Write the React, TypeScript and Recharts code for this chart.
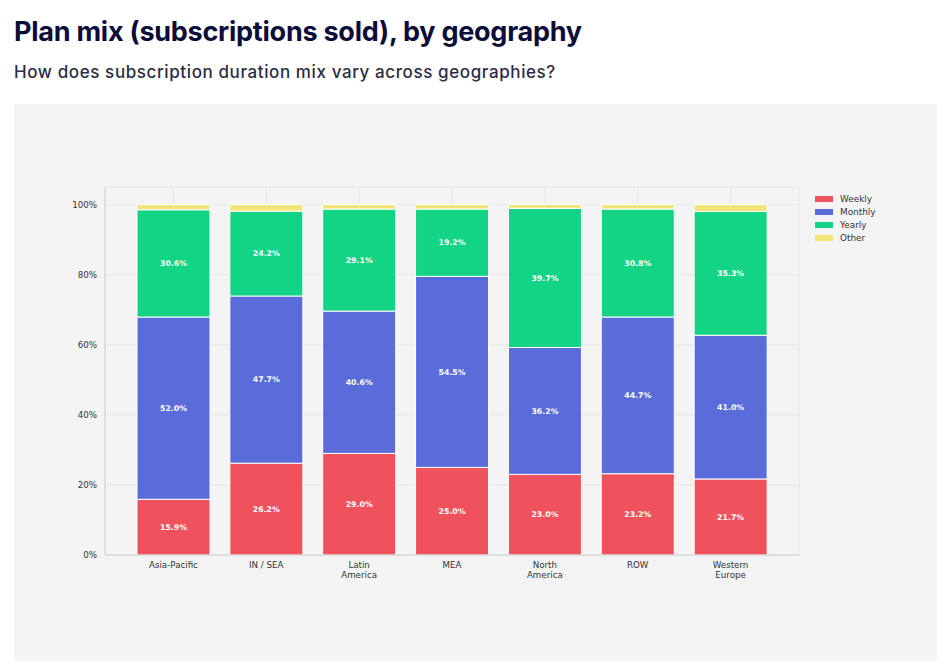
import React from "react";
import {
  BarChart,
  Bar,
  XAxis,
  YAxis,
  CartesianGrid,
  LabelList,
} from "recharts";

// plan mix share (%) per geography
const regions = [
  "Asia-Pacific",
  "IN / SEA",
  "Latin\nAmerica",
  "MEA",
  "North\nAmerica",
  "ROW",
  "Western\nEurope",
];
const weekly = [15.9, 26.2, 29.0, 25.0, 23.0, 23.2, 21.7];
const monthly = [52.0, 47.7, 40.6, 54.5, 36.2, 44.7, 41.0];
const yearly = [30.6, 24.2, 29.1, 19.2, 39.7, 30.8, 35.3];
const other = [1.5, 1.9, 1.3, 1.3, 1.1, 1.3, 2.0];
const yTicks = [0, 20, 40, 60, 80, 100];

const series = [
  { key: "Weekly", color: "#EF525C", values: weekly, labelled: true },
  { key: "Monthly", color: "#5A6BDA", values: monthly, labelled: true },
  { key: "Yearly", color: "#13D384", values: yearly, labelled: true },
  { key: "Other", color: "#F2E57B", values: other, labelled: false },
];

const data = regions.map((region, i) => {
  const row: Record<string, string | number> = { region };
  series.forEach((s) => (row[s.key] = s.values[i]));
  return row;
});

const tickFont = "'DejaVu Sans', sans-serif";

const RegionTick = (props: any) => {
  const { x, y, payload } = props;
  const lines = String(payload.value).split("\n");
  return (
    <text
      x={x}
      y={y}
      textAnchor="middle"
      fontFamily={tickFont}
      fontSize={8.7}
      fill="#333"
    >
      {lines.map((line, i) => (
        <tspan key={i} x={x} dy={i === 0 ? 4.5 : 10.5}>
          {line}
        </tspan>
      ))}
    </text>
  );
};

const SideLegend = () => (
  <div
    style={{
      position: "absolute",
      left: 801,
      top: 88,
      fontFamily: tickFont,
      fontSize: 8.9,
      color: "#333",
    }}
  >
    {series.map((s) => (
      <div
        key={s.key}
        style={{ display: "flex", alignItems: "center", height: 13.2 }}
      >
        <span
          style={{
            width: 18,
            height: 6,
            background: s.color,
            marginRight: 7,
            display: "inline-block",
          }}
        />
        {s.key}
      </div>
    ))}
  </div>
);

export default function App() {
  return (
    <div
      style={{
        position: "absolute",
        left: 0,
        top: 0,
        width: 951,
        height: 669,
        background: "#fff",
      }}
    >
      <div
        style={{
          position: "absolute",
          left: 14,
          top: 15,
          fontFamily: "Inter, sans-serif",
          fontWeight: 700,
          fontSize: 27,
          letterSpacing: -0.25,
          color: "#0B0C38",
          whiteSpace: "nowrap",
        }}
      >
        Plan mix (subscriptions sold), by geography
      </div>
      <div
        style={{
          position: "absolute",
          left: 14,
          top: 62,
          fontFamily: "Inter, sans-serif",
          fontWeight: 500,
          fontSize: 17,
          letterSpacing: 0.6,
          color: "#2B2D45",
          whiteSpace: "nowrap",
        }}
      >
        How does subscription duration mix vary across geographies?
      </div>

      <div
        style={{
          position: "absolute",
          left: 14,
          top: 104,
          width: 923,
          height: 557,
          background: "#F4F4F4",
        }}
      >
        <BarChart
          width={923}
          height={557}
          data={data}
          margin={{ top: 83, right: 138, bottom: 76, left: 51 }}
          barSize={73}
        >
          <CartesianGrid stroke="#E4E4E4" strokeWidth={0.8} />
          <XAxis
            dataKey="region"
            interval={0}
            tickLine={false}
            axisLine={{ stroke: "#CFCFCF" }}
            tick={<RegionTick />}
            padding={{ left: 22, right: 22 }}
            height={30}
          />
          <XAxis
            xAxisId="top"
            orientation="top"
            dataKey="region"
            tick={false}
            tickLine={false}
            axisLine={{ stroke: "#CFCFCF" }}
            height={0}
          />
          <YAxis
            type="number"
            domain={[0, 105]}
            ticks={yTicks}
            tickFormatter={(v: number) => `${v}%`}
            tickLine={false}
            axisLine={{ stroke: "#CFCFCF" }}
            tick={{ fontFamily: tickFont, fontSize: 8.7, fill: "#333" }}
            width={40}
            allowDataOverflow
          />
          <YAxis
            yAxisId="right"
            orientation="right"
            domain={[0, 105]}
            tick={false}
            tickLine={false}
            axisLine={{ stroke: "#CFCFCF" }}
            width={0}
          />
          {series.map((s) => (
            <Bar
              key={s.key}
              dataKey={s.key}
              stackId="mix"
              fill={s.color}
              stroke="#fff"
              strokeWidth={1}
              isAnimationActive={false}
            >
              {s.labelled && (
                <LabelList
                  dataKey={s.key}
                  position="center"
                  formatter={(v: any) => `${Number(v).toFixed(1)}%`}
                  fill="#fff"
                  fontFamily={tickFont}
                  fontWeight={700}
                  fontSize={7.8}
                />
              )}
            </Bar>
          ))}
        </BarChart>
        <SideLegend />
      </div>
    </div>
  );
}
